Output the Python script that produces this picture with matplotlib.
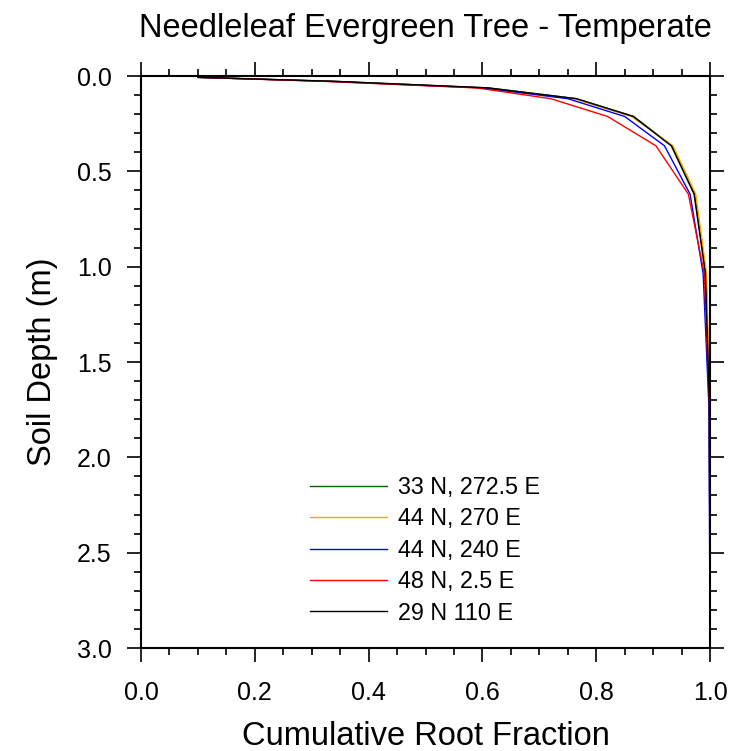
#!/usr/bin/env python3

import numpy as np
import matplotlib
matplotlib.use("Agg")
import matplotlib.pyplot as plt
from matplotlib.ticker import MultipleLocator, FormatStrFormatter

# soil layer node depths (m)
depth = [0.0071, 0.0279, 0.0623, 0.1189, 0.2122, 0.3661, 0.6198, 1.0380, 1.7276, 2.8646]

# cumulative root fraction at each site
sites = ["33 N, 272.5 E", "44 N, 270 E", "44 N, 240 E", "48 N, 2.5 E", "29 N 110 E"]
frac_33n = [0.10, 0.34, 0.61, 0.765, 0.866, 0.933, 0.973, 0.993, 0.999, 1.0]
frac_44n_270 = [0.10, 0.33, 0.59, 0.760, 0.862, 0.935, 0.975, 0.994, 0.999, 1.0]
frac_44n_240 = [0.10, 0.33, 0.60, 0.750, 0.850, 0.920, 0.965, 0.988, 0.998, 1.0]
frac_48n = [0.10, 0.32, 0.59, 0.720, 0.820, 0.905, 0.962, 0.990, 0.999, 1.0]
frac_29n = [0.10, 0.34, 0.61, 0.765, 0.865, 0.932, 0.972, 0.992, 0.999, 1.0]
colors = ["#006400", "#FFA500", "#0000FF", "#FF0000", "#000000"]

plt.rcParams["font.family"] = ["Liberation Sans", "DejaVu Sans"]


def main():
    fig = plt.figure(figsize=(7.39, 7.51), dpi=100)
    ax = fig.add_axes([141 / 739, 1 - 648 / 751, 569 / 739, 572 / 751])

    series = [frac_33n, frac_44n_270, frac_44n_240, frac_48n, frac_29n]
    for vals, name, c in zip(series, sites, colors):
        ax.plot(vals, depth, color=c, lw=1.0, label=name)

    ax.set_xlim(0, 1)
    ax.set_ylim(3, 0)
    ax.xaxis.set_major_locator(MultipleLocator(0.2))
    ax.xaxis.set_minor_locator(MultipleLocator(0.05))
    ax.yaxis.set_major_locator(MultipleLocator(0.5))
    ax.yaxis.set_minor_locator(MultipleLocator(0.1))
    ax.xaxis.set_major_formatter(FormatStrFormatter("%.1f"))
    ax.yaxis.set_major_formatter(FormatStrFormatter("%.1f"))

    ax.tick_params(which="both", direction="out", top=True, right=True,
                   labelsize=18, width=1.2)
    ax.tick_params(which="major", length=10)
    ax.tick_params(which="minor", length=5)
    ax.tick_params(axis="x", which="major", pad=14)
    ax.tick_params(axis="y", which="major", pad=11)
    for s in ax.spines.values():
        s.set_linewidth(1.5)

    ax.set_xlabel("Cumulative Root Fraction", fontsize=23.5, labelpad=11)
    ax.set_ylabel("Soil Depth (m)", fontsize=23.5, labelpad=14)
    ax.set_title("Needleleaf Evergreen Tree - Temperate", fontsize=23.5, pad=28)

    ax.legend(loc="upper left", bbox_to_anchor=(0.276, 0.321), frameon=False,
              fontsize=16.8, handlelength=3.3, handletextpad=0.47,
              labelspacing=0.36, borderpad=0)

    fig.savefig("out.png", dpi=100)


if __name__ == "__main__":
    main()
